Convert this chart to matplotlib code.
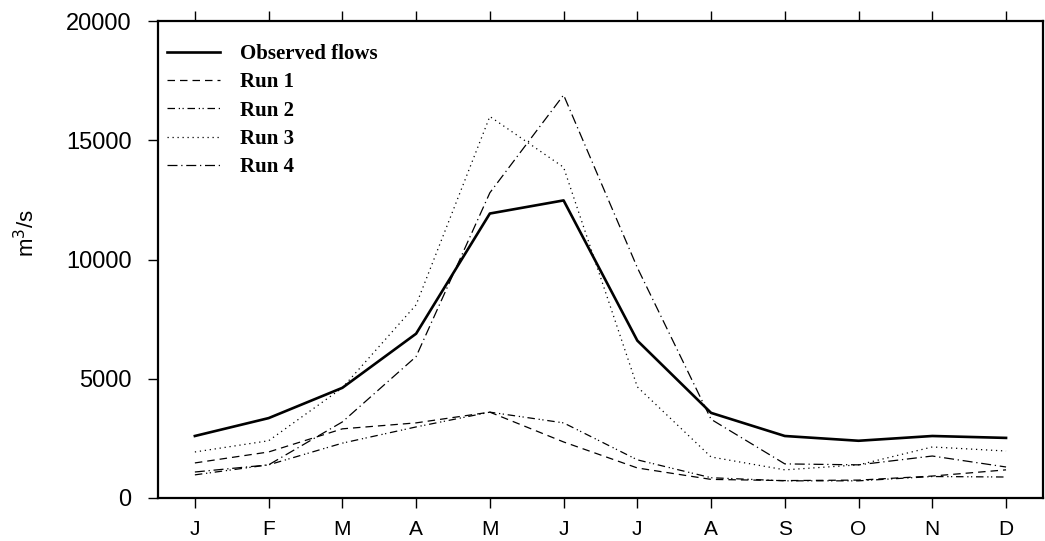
import numpy as np
import matplotlib.pyplot as plt

months = ["J", "F", "M", "A", "M", "J", "J", "A", "S", "O", "N", "D"]
observed = [2600, 3350, 4620, 6890, 11930, 12480, 6600, 3570, 2600, 2400, 2600, 2520]
run1 = [1470, 1930, 2900, 3150, 3600, 2350, 1260, 780, 730, 750, 920, 1180]
run2 = [970, 1390, 2300, 2980, 3600, 3150, 1600, 850, 720, 720, 900, 880]
run3 = [1930, 2400, 4620, 8100, 16000, 13870, 4660, 1720, 1180, 1390, 2140, 1970]
run4 = [1090, 1390, 3190, 5930, 12800, 16900, 9660, 3300, 1430, 1390, 1760, 1300]

x = np.arange(1, 13)

fig = plt.figure(figsize=(10.45, 5.41), dpi=100)
ax = fig.add_axes([0.1512, 0.0795, 0.8468, 0.8815])

ax.plot(x, observed, color="black", lw=1.9, label="Observed flows")
ax.plot(x, run1, color="black", lw=0.9, dashes=(6, 4), label="Run 1")
ax.plot(x, run2, color="black", lw=0.9, dashes=(6, 3, 1, 2, 1, 3), label="Run 2")
ax.plot(x, run3, color="black", lw=0.9, dashes=(1, 3), label="Run 3")
ax.plot(x, run4, color="black", lw=0.9, dashes=(8, 3, 1, 3), label="Run 4")

ax.set_xlim(0.5, 12.5)
ax.set_ylim(0, 20000)
ax.set_xticks(x)
ax.set_xticklabels(months)
ax.set_yticks([0, 5000, 10000, 15000, 20000])

for s in ax.spines.values():
    s.set_linewidth(1.6)

ax.tick_params(axis="x", which="both", direction="out", length=7, width=1,
               top=True, labeltop=False, pad=8.5, labelsize=15)
ax.tick_params(axis="y", direction="out", length=7, width=1, pad=12, labelsize=17)
for lab in ax.get_xticklabels() + ax.get_yticklabels():
    lab.set_family("Liberation Sans")

ax.set_ylabel("m$^3$/s", fontsize=16, family="Liberation Sans")
ax.yaxis.set_label_coords(-0.134, 0.556)

leg = ax.legend(loc="upper left", bbox_to_anchor=(0.0102, 0.952), frameon=False,
                handlelength=2.55, handletextpad=0.96, labelspacing=0.4,
                borderaxespad=0, borderpad=0,
                prop={"family": "Liberation Serif", "weight": "bold", "size": 15})

fig.savefig("out.png", dpi=100)
